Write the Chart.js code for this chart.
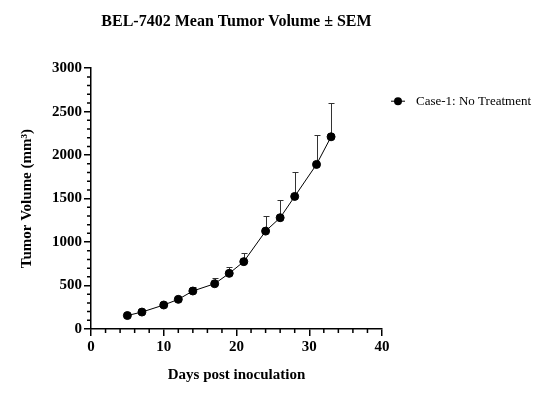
<!DOCTYPE html>
<html>
<head>
<meta charset="utf-8">
<script src="https://cdn.jsdelivr.net/npm/chart.js@4"></script>
<style>
  html, body { margin: 0; padding: 0; background: #fff; }
  canvas { display: block; }
</style>
</head>
<body>
<canvas id="tumorChart" width="544" height="409"></canvas>
<script>
const days = [5, 7, 10, 12, 14, 17, 19, 21, 24, 26, 28, 31, 33];
const meanVolume = [155, 195, 276, 341, 437, 521, 640, 775, 1126, 1280, 1525, 1893, 2211];
const semVolume = [10, 12, 15, 30, 42, 70, 77, 99, 170, 203, 276, 341, 383];
const seriesLabel = "Case-1: No Treatment";
const yTicks = [0, 500, 1000, 1500, 2000, 2500, 3000];
const xTicks = [0, 10, 20, 30, 40];

const SERIF = "'Liberation Serif', 'Times New Roman', serif";

// upper SEM whiskers, drawn under the points
const errorBars = {
  id: "errorBars",
  beforeDatasetsDraw(chart) {
    const { ctx, scales: { x, y } } = chart;
    ctx.save();
    ctx.strokeStyle = "#333";
    ctx.lineWidth = 1;
    days.forEach((d, i) => {
      const px = Math.round(x.getPixelForValue(d)) + 0.5;
      const y0 = y.getPixelForValue(meanVolume[i]);
      const y1 = Math.round(y.getPixelForValue(meanVolume[i] + semVolume[i])) + 0.5;
      ctx.beginPath();
      ctx.moveTo(px, y0);
      ctx.lineTo(px, y1);
      ctx.moveTo(px - 3, y1);
      ctx.lineTo(px + 3, y1);
      ctx.stroke();
    });
    ctx.restore();
  },
};

// minor tick marks between the labelled ones
const minorTicks = {
  id: "minorTicks",
  afterDraw(chart) {
    const { ctx, chartArea, scales: { x, y } } = chart;
    ctx.save();
    ctx.strokeStyle = "#000";
    ctx.lineWidth = 1.5;
    ctx.beginPath();
    for (let v = 100; v < 3000; v += 100) {
      if (v % 500 === 0) continue;
      const py = y.getPixelForValue(v);
      ctx.moveTo(chartArea.left - 4, py);
      ctx.lineTo(chartArea.left, py);
    }
    for (let v = 2; v < 40; v += 2) {
      if (v % 10 === 0) continue;
      const px = x.getPixelForValue(v);
      ctx.moveTo(px, chartArea.bottom);
      ctx.lineTo(px, chartArea.bottom + 4);
    }
    ctx.stroke();
    ctx.restore();
  },
};

// legend entry to the right of the plot
const sideLegend = {
  id: "sideLegend",
  afterDraw(chart) {
    const { ctx, chartArea } = chart;
    const lx = chartArea.right + 9;
    const ly = chartArea.top + 33;
    ctx.save();
    ctx.strokeStyle = "#000";
    ctx.fillStyle = "#000";
    ctx.lineWidth = 1;
    ctx.beginPath();
    ctx.moveTo(lx, ly);
    ctx.lineTo(lx + 14, ly);
    ctx.stroke();
    ctx.beginPath();
    ctx.arc(lx + 7, ly, 4, 0, Math.PI * 2);
    ctx.fill();
    ctx.font = "13px " + SERIF;
    ctx.textBaseline = "middle";
    ctx.fillText(seriesLabel, lx + 25, ly);
    ctx.restore();
  },
};

new Chart(document.getElementById("tumorChart"), {
  type: "line",
  data: {
    datasets: [
      {
        label: seriesLabel,
        data: days.map((d, i) => ({ x: d, y: meanVolume[i] })),
        borderColor: "#000",
        backgroundColor: "#000",
        borderWidth: 1,
        pointRadius: 4,
        pointBackgroundColor: "#000",
        pointBorderColor: "#000",
        tension: 0,
      },
    ],
  },
  options: {
    responsive: false,
    animation: false,
    devicePixelRatio: 1,
    layout: { padding: { left: 0, right: 162, top: 0, bottom: 21 } },
    plugins: {
      legend: { display: false },
      tooltip: { enabled: false },
      title: {
        display: true,
        fullSize: false,
        text: "BEL-7402 Mean Tumor Volume \u00b1 SEM",
        color: "#000",
        font: { family: SERIF, size: 16, weight: "bold" },
        padding: { top: 12, bottom: 37 },
      },
    },
    scales: {
      x: {
        type: "linear",
        min: 0,
        max: 40,
        afterBuildTicks: (s) => { s.ticks = xTicks.map((v) => ({ value: v })); },
        grid: { drawOnChartArea: false, drawTicks: true, tickLength: 7, color: "#000", lineWidth: 1.5 },
        border: { display: true, color: "#000", width: 1.5 },
        ticks: {
          color: "#000",
          padding: 2,
          font: { family: SERIF, size: 15, weight: "bold" },
          callback: (v) => String(v),
        },
        title: {
          display: true,
          text: "Days post inoculation",
          color: "#000",
          font: { family: SERIF, size: 15, weight: "bold" },
          padding: { top: 8, bottom: 4 },
        },
      },
      y: {
        min: 0,
        max: 3000,
        afterBuildTicks: (s) => { s.ticks = yTicks.map((v) => ({ value: v })); },
        afterFit: (s) => { s.width = 91; },
        grid: { drawOnChartArea: false, drawTicks: true, tickLength: 7, color: "#000", lineWidth: 1.5 },
        border: { display: true, color: "#000", width: 1.5 },
        ticks: {
          color: "#000",
          padding: 2,
          font: { family: SERIF, size: 15, weight: "bold" },
          callback: (v) => String(v),
        },
        title: {
          display: true,
          text: "Tumor Volume (mm\u00b3)",
          color: "#000",
          font: { family: SERIF, size: 15, weight: "bold" },
          padding: { top: 18, bottom: 4 },
        },
      },
    },
  },
  plugins: [errorBars, minorTicks, sideLegend],
});
</script>
</body>
</html>
